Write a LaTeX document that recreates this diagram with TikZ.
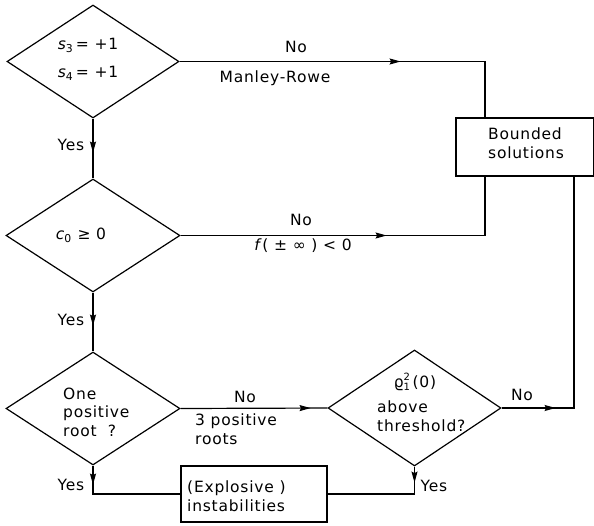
\documentclass[tikz,border=0pt]{standalone}
\usepackage{fontspec}
\setmainfont{DejaVu Sans}[LetterSpace=5]
\usetikzlibrary{shapes.geometric,arrows.meta,decorations.markings}
\newcommand{\supsub}[2]{\raisebox{-3pt}{\shortstack[l]{\fontsize{10}{10}\selectfont #1\\[-1pt]\fontsize{10}{10}\selectfont #2}}}
\begin{document}
\begin{tikzpicture}[x=1pt,y=-1pt,
  every node/.style={font=\fontsize{15.5}{18.5}\selectfont, inner sep=0pt},
  line/.style={line width=1.2pt},
  dec/.style={draw, line width=1.2pt, diamond, minimum width=#1},
  boxn/.style={draw, line width=1.2pt, rectangle},
  tip/.style={postaction={decorate}, decoration={markings,
     mark=at position #1 with {\arrow{Stealth[length=11pt,width=6pt,inset=1.5pt]}}}},
  lbl/.style={align=left}
]
\useasboundingbox (0,0) rectangle (594,525);
% decisions
\node[dec=172pt, minimum height=113pt] (d1) at (93,61.5) {};
\node[dec=174pt, minimum height=113pt] (d2) at (93,235.5) {};
\node[dec=174pt, minimum height=113pt] (d3) at (93,408.5) {};
\node[dec=173pt, minimum height=116pt] (d4) at (414.5,408) {};
% boxes
\node[boxn, minimum width=137.5pt, minimum height=58pt] (b1) at (524.75,147) {};
\node[boxn, minimum width=146pt, minimum height=56pt] (b2) at (254,494) {};
% helper coordinates
\coordinate (b1a) at (485,118);
\coordinate (b1b) at (485,176);
\coordinate (b1c) at (574,176);
% texts
\node (t1a) at (88,45) {{\itshape s}\textsubscript{3}\,= +1};
\node (t1b) at (88,73) {{\itshape s}\textsubscript{4}\,= +1};
\node (no1) at (296,47) {No};
\node (mr) at (275,78) {Manley-Rowe};
\node[lbl] (bt) at (526,143) {Bounded\\solutions};
\node (c0) at (81,235) {{\itshape c}\textsubscript{0} ≥ 0};
\node (no2) at (301,220) {No};
\node (fx) at (303,246) {{\itshape f}\,( ± ∞ ) < 0};
\node (y1) at (71,145) {Yes};
\node (y2) at (71,320) {Yes};
\node (y3) at (71,485) {Yes};
\node (y4) at (434,486) {Yes};
\node[lbl, anchor=west] (d3t) at (63,412) {One\\positive\\root~~?};
\node (no3) at (245,397) {No};
\node[lbl, anchor=west] (rt) at (195,429) {3 positive\\roots};
\node (rho) at (415,382) {ϱ\supsub{2}{1}\,(0)};
\node[lbl, anchor=west] (thr) at (377,416) {above\\threshold?};
\node (no4) at (522,395) {No};
\node[lbl, anchor=west] (ex) at (187,496) {(Explosive )\\instabilities};
% connectors
\draw[line, tip=221pt] (d1.east) -- (b1a |- d1.east) -- (b1a);
\draw[line, tip=34pt] (d1.south) -- (d2.north);
\draw[line, tip=206pt] (d2.east) -- (b1b |- d2.east) -- (b1b);
\draw[line, tip=33pt] (d2.south) -- (d3.north);
\draw[line, tip=130pt] (d3.east) -- (d4.west);
\draw[line, tip=54pt] (d4.east) -- (b1c |- d4.east) -- (b1c);
\draw[line, tip=19pt] (d3.south) |- (b2.west);
\draw[line, tip=16pt] (d4.south) |- (b2.east);
\end{tikzpicture}
\end{document}
